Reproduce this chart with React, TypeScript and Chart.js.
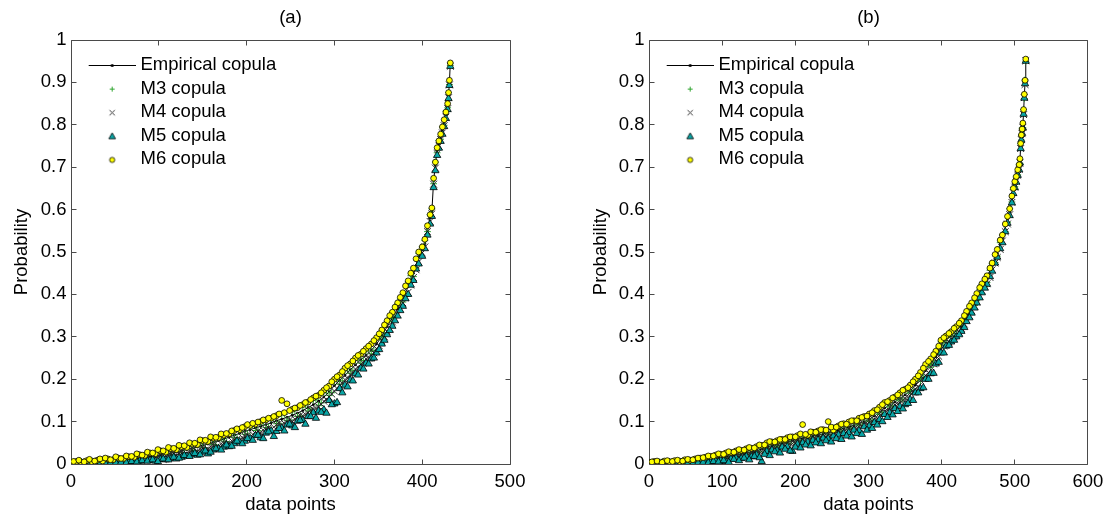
import React, { useEffect, useRef } from "react";
import { Chart, registerables } from "chart.js";

Chart.register(...registerables);

const FONT = "'Liberation Sans', Arial, Helvetica, sans-serif";
const FS = 18.5;

const seriesNames = ["Empirical copula", "M3 copula", "M4 copula", "M5 copula", "M6 copula"];
const panelTitles = ["(a)", "(b)"];
const xAxisTitle = "data points";
const yAxisTitle = "Probability";
const xTicksA = [0, 100, 200, 300, 400, 500];
const xTicksB = [0, 100, 200, 300, 400, 500, 600];
const yTicks = [0, 0.1, 0.2, 0.3, 0.4, 0.5, 0.6, 0.7, 0.8, 0.9, 1];

// ---- Panel (a) ----
const xA = [0, 6, 12, 18, 24, 30, 36, 42, 48, 54,
  60, 66, 72, 78, 84, 90, 96, 102, 108, 114,
  120, 126, 132, 138, 144, 150, 156, 162, 168, 174,
  180, 186, 192, 198, 204, 210, 216, 222, 228, 234,
  240, 246, 252, 258, 264, 270, 276, 282, 288, 294,
  300, 306, 312, 318, 324, 330, 336, 342, 348, 354,
  360, 366, 372, 378, 384, 390, 396,
  400, 403, 406, 409, 411, 413, 415, 417, 419, 421, 423, 425, 427, 429, 430, 431, 432];
const empA = [.001, .002, .002, .003, .003, .004, .005, .006, .007, .008,
  .009, .010, .012, .013, .015, .017, .019, .021, .023, .026,
  .028, .031, .034, .037, .040, .044, .047, .051, .055, .059,
  .063, .068, .072, .077, .081, .085, .089, .093, .097, .102,
  .106, .110, .115, .120, .126, .133, .140, .148, .158, .170,
  .185, .197, .209, .222, .234, .246, .256, .268, .283, .301,
  .324, .344, .366, .390, .418, .450, .490,
  .505, .520, .555, .580, .595, .668, .705, .740, .756, .772, .788, .805, .825, .845, .870, .900, .945];
const m3A = [.004, .001, .006, .002, .007, .003, .009, .004, .010, .006,
  .013, .008, .017, .011, .020, .014, .025, .018, .029, .022,
  .035, .027, .040, .033, .047, .039, .054, .046, .062, .054,
  .071, .062, .080, .070, .089, .079, .097, .086, .106, .095,
  .116, .103, .125, .112, .136, .125, .151, .139, .169, .162,
  .195, .188, .220, .214, .245, .238, .267, .260, .295, .293,
  .335, .336, .378, .382, .430, .442, .497,
  .512, .527, .548, .588, .602, .661, .712, .734, .763, .766, .795, .799, .832, .840, .876, .895, .940];
const m4A = [.000, .004, .001, .005, .001, .006, .002, .008, .003, .010,
  .005, .012, .007, .015, .009, .018, .012, .022, .015, .025,
  .020, .029, .024, .033, .030, .038, .035, .044, .041, .049,
  .048, .057, .055, .066, .064, .072, .075, .082, .081, .093,
  .092, .098, .101, .109, .114, .121, .129, .135, .148, .158,
  .172, .186, .199, .211, .224, .235, .248, .256, .272, .290,
  .313, .335, .352, .380, .405, .440, .477,
  .498, .512, .548, .572, .590, .660, .698, .732, .750, .765, .781, .798, .818, .838, .864, .894, .938];
const m5A = [.000, .001, .000, .002, .001, .002, .002, .004, .003, .005,
  .004, .005, .006, .007, .008, .009, .007, .011, .010, .013,
  .012, .016, .019, .022, .021, .028, .024, .033, .036, .040,
  .041, .048, .052, .054, .060, .067, .062, .073, .078, .077,
  .085, .092, .090, .101, .103, .112, .121, .125, .128, .150,
  .142, .178, .186, .198, .213, .226, .238, .248, .262, .283,
  .305, .325, .349, .372, .400, .433, .472,
  .490, .508, .540, .566, .584, .652, .692, .728, .745, .761, .778, .796, .815, .836, .862, .893, .938];
const m6A = [.004, .006, .003, .008, .005, .009, .007, .012, .010, .014,
  .013, .017, .016, .022, .020, .026, .024, .031, .028, .036,
  .034, .041, .039, .047, .046, .055, .053, .061, .062, .068,
  .071, .079, .081, .088, .091, .094, .100, .104, .108, .114,
  .150, .142, .129, .133, .140, .146, .156, .162, .174, .184,
  .200, .210, .226, .236, .250, .259, .272, .283, .298, .316,
  .338, .358, .380, .404, .432, .462, .500,
  .512, .530, .562, .588, .604, .674, .712, .746, .762, .778, .795, .812, .830, .850, .876, .905, .946];

// extra model points of panel (a), between the ones above
const xA2 = [3, 9, 15, 21, 27, 33, 39, 45, 51, 57,
  63, 69, 75, 81, 87, 93, 99, 105, 111, 117,
  123, 129, 135, 141, 147, 153, 159, 165, 171, 177,
  183, 189, 195, 201, 207, 213, 219, 225, 231, 237,
  243, 249, 255, 261, 267, 273, 279, 285, 291, 297,
  303, 309, 315, 321, 327, 333, 339, 345, 351, 357,
  363, 369, 375, 381, 387, 393];
const m3A2 = [.005, .000, .004, .008, .001, .007, .010, .003, .012, .006,
  .015, .007, .019, .010, .022, .014, .027, .017, .031, .021,
  .036, .026, .043, .032, .049, .038, .057, .045, .064, .053,
  .073, .062, .083, .071, .091, .079, .099, .087, .108, .096,
  .117, .104, .126, .114, .139, .128, .153, .144, .173, .168,
  .201, .196, .225, .220, .250, .244, .272, .267, .301, .305,
  .344, .347, .389, .396, .444, .462];
const m4A2 = [.000, .003, .000, .004, .000, .002, .006, .001, .008, .003,
  .010, .004, .013, .006, .015, .009, .019, .011, .022, .016,
  .026, .021, .031, .027, .036, .033, .042, .040, .048, .047,
  .055, .058, .063, .068, .070, .078, .080, .086, .087, .096,
  .096, .104, .106, .115, .117, .128, .131, .141, .152, .165,
  .178, .190, .202, .214, .228, .238, .250, .262, .279, .300,
  .320, .342, .366, .392, .422, .458];
const m5A2 = [.000, .000, .001, .000, .001, .001, .002, .002, .003, .004,
  .003, .006, .005, .008, .007, .010, .006, .012, .010, .016,
  .014, .020, .018, .025, .022, .031, .028, .036, .033, .045,
  .042, .054, .048, .060, .056, .068, .060, .076, .065, .084,
  .078, .094, .086, .103, .094, .112, .108, .122, .120, .140,
  .145, .168, .182, .196, .210, .224, .236, .250, .270, .292,
  .315, .338, .362, .390, .422, .460];
const m6A2 = [.006, .009, .005, .011, .007, .012, .014, .010, .017, .013,
  .019, .018, .024, .021, .028, .026, .034, .031, .039, .037,
  .044, .043, .050, .049, .057, .056, .064, .063, .071, .072,
  .078, .083, .086, .093, .096, .099, .104, .108, .112, .118,
  .121, .126, .132, .138, .145, .152, .160, .168, .180, .194,
  .206, .218, .232, .243, .256, .266, .278, .291, .307, .328,
  .350, .370, .393, .420, .450, .484];

// ---- Panel (b) ----
const xB = [0, 7, 14, 21, 28, 35, 42, 49, 56, 63,
  70, 77, 84, 91, 98, 105, 112, 119, 126, 133,
  140, 147, 154, 161, 168, 175, 182, 189, 196, 203,
  210, 217, 224, 231, 238, 245, 252, 259, 266, 273,
  280, 287, 294, 301, 308, 315, 322, 329, 336, 343,
  350, 357, 364, 371, 378, 385, 392, 399, 406, 413,
  420, 427, 434, 441, 448, 455, 462, 469, 476, 483,
  490,
  493, 496, 498, 500, 502, 504, 506, 507, 508, 509, 510, 511, 512, 513, 514, 515];
const empB = [.001, .001, .002, .002, .002, .003, .003, .004, .005, .006,
  .008, .009, .011, .013, .015, .017, .019, .021, .024, .026,
  .028, .031, .035, .040, .043, .046, .049, .052, .055, .058,
  .061, .064, .066, .068, .071, .074, .076, .080, .084, .087,
  .091, .095, .100, .105, .113, .122, .132, .139, .146, .155,
  .163, .172, .186, .202, .220, .235, .253, .280, .292, .302,
  .314, .326, .350, .368, .392, .415, .434, .465, .497, .532,
  .577,
  .595, .625, .645, .660, .672, .688, .700, .715, .750, .770, .785, .798, .830, .868, .900, .953];
const m3B = [.003, .000, .005, .001, .006, .002, .007, .003, .009, .004,
  .012, .007, .015, .010, .019, .014, .024, .017, .029, .022,
  .033, .027, .041, .036, .049, .041, .055, .048, .061, .052,
  .068, .060, .073, .064, .079, .069, .085, .075, .093, .082,
  .099, .090, .109, .100, .122, .117, .141, .134, .156, .149,
  .173, .167, .197, .196, .231, .228, .263, .288, .286, .310,
  .308, .334, .343, .377, .385, .423, .428, .473, .490, .540,
  .570,
  .602, .618, .652, .654, .679, .682, .707, .709, .756, .764, .792, .793, .836, .862, .906, .950];
const m4B = [.000, .003, .001, .004, .000, .005, .001, .006, .002, .008,
  .004, .011, .007, .015, .010, .019, .014, .024, .018, .028,
  .022, .034, .029, .040, .036, .047, .042, .053, .048, .057,
  .055, .063, .059, .068, .064, .072, .069, .079, .076, .086,
  .083, .094, .092, .104, .104, .119, .124, .134, .139, .150,
  .155, .168, .177, .197, .209, .229, .242, .272, .284, .296,
  .305, .320, .340, .362, .382, .409, .425, .458, .487, .526,
  .566,
  .588, .617, .640, .653, .667, .681, .695, .710, .744, .765, .779, .794, .824, .864, .895, .951];
const m5B = [.000, .000, .001, .000, .001, .001, .002, .001, .003, .003,
  .004, .005, .006, .008, .009, .006, .012, .014, .013, .018,
  .017, .022, .006, .030, .033, .032, .040, .041, .030, .047,
  .050, .052, .056, .057, .061, .060, .066, .069, .072, .074,
  .080, .079, .088, .090, .098, .105, .117, .121, .131, .136,
  .140, .152, .168, .178, .200, .213, .236, .262, .278, .288,
  .300, .313, .336, .356, .380, .404, .424, .455, .488, .522,
  .568,
  .586, .616, .638, .652, .665, .681, .694, .710, .744, .764, .780, .793, .825, .863, .897, .950];
const m6B = [.004, .006, .003, .007, .005, .008, .006, .010, .009, .012,
  .014, .016, .018, .021, .023, .026, .027, .031, .032, .036,
  .037, .041, .044, .050, .052, .055, .058, .062, .064, .067,
  .093, .068, .075, .078, .081, .100, .080, .090, .095, .099,
  .102, .108, .112, .118, .126, .134, .145, .150, .158, .168,
  .176, .186, .200, .216, .235, .248, .266, .292, .302, .312,
  .324, .338, .360, .380, .402, .425, .444, .474, .506, .540,
  .584,
  .602, .632, .650, .666, .678, .694, .706, .720, .756, .776, .790, .804, .836, .872, .905, .955];

// extra model points of panel (b)
const xB2 = [4, 11, 18, 25, 32, 39, 46, 53, 60, 67,
  74, 81, 88, 95, 102, 109, 116, 123, 130, 137,
  144, 151, 158, 165, 172, 179, 186, 193, 200, 207,
  214, 221, 228, 235, 242, 249, 256, 263, 270, 277,
  284, 291, 298, 305, 312, 319, 326, 333, 340, 347,
  354, 361, 368, 375, 382, 389, 396, 403, 410, 417,
  424, 431, 438, 445, 452, 459, 466, 473, 480, 487];
const m3B2 = [.004, .000, .005, .001, .006, .001, .007, .003, .009, .005,
  .012, .007, .016, .010, .020, .014, .024, .018, .029, .023,
  .034, .029, .042, .037, .049, .043, .055, .049, .062, .055,
  .068, .060, .073, .064, .078, .070, .084, .077, .092, .084,
  .099, .092, .109, .104, .124, .121, .142, .137, .157, .153,
  .175, .173, .202, .205, .235, .238, .274, .280, .304, .302,
  .328, .332, .366, .374, .411, .418, .457, .475, .522, .548];
const m4B2 = [.000, .002, .000, .003, .001, .004, .001, .005, .003, .006,
  .006, .009, .009, .012, .012, .016, .015, .020, .020, .024,
  .024, .029, .031, .036, .037, .042, .043, .048, .049, .054,
  .054, .060, .059, .064, .064, .069, .069, .076, .077, .083,
  .084, .090, .094, .101, .107, .118, .126, .134, .141, .150,
  .157, .170, .183, .202, .216, .236, .254, .278, .288, .300,
  .311, .330, .350, .372, .395, .418, .440, .474, .506, .548];
const m5B2 = [.000, .000, .001, .000, .001, .001, .001, .002, .002, .003,
  .004, .003, .006, .005, .008, .004, .011, .008, .014, .010,
  .018, .015, .023, .020, .029, .026, .035, .031, .040, .038,
  .045, .043, .050, .048, .055, .052, .060, .058, .066, .064,
  .072, .070, .080, .084, .092, .100, .110, .116, .124, .130,
  .143, .150, .168, .180, .200, .214, .240, .262, .280, .292,
  .305, .322, .345, .368, .392, .415, .442, .474, .508, .548];
const m6B2 = [.005, .007, .004, .008, .006, .009, .007, .011, .010, .014,
  .015, .019, .019, .024, .023, .029, .028, .034, .033, .039,
  .038, .045, .045, .053, .052, .058, .058, .064, .064, .071,
  .070, .076, .075, .081, .080, .087, .087, .094, .094, .102,
  .102, .110, .113, .121, .128, .140, .147, .156, .163, .174,
  .180, .194, .208, .226, .242, .258, .278, .298, .308, .320,
  .332, .350, .372, .392, .416, .436, .462, .494, .528, .566];

const GREEN = "#2fa52f";
const XCOL = "#2a2a2a";
const TEAL = "#0aa6a6";
const YELLOW = "#ffff00";

function makeLegendImage(kind: number): HTMLCanvasElement {
  const c = document.createElement("canvas");
  c.width = 64;
  c.height = 12;
  const ctx = c.getContext("2d")!;
  const cx = 40.5;
  const cy = 6;
  ctx.lineWidth = 1;
  if (kind === 0) {
    ctx.strokeStyle = "#000";
    ctx.beginPath();
    ctx.moveTo(17, cy + 0.5);
    ctx.lineTo(64, cy + 0.5);
    ctx.stroke();
    ctx.fillStyle = "#000";
    ctx.beginPath();
    ctx.arc(cx, cy + 0.5, 1.6, 0, Math.PI * 2);
    ctx.fill();
  } else if (kind === 1) {
    ctx.strokeStyle = GREEN;
    ctx.beginPath();
    ctx.moveTo(cx - 2.5, cy + 0.5);
    ctx.lineTo(cx + 2.5, cy + 0.5);
    ctx.moveTo(cx, cy - 2);
    ctx.lineTo(cx, cy + 3);
    ctx.stroke();
  } else if (kind === 2) {
    ctx.strokeStyle = "#3a3a3a";
    ctx.beginPath();
    ctx.moveTo(cx - 2.7, cy - 2.2);
    ctx.lineTo(cx + 2.7, cy + 3.2);
    ctx.moveTo(cx + 2.7, cy - 2.2);
    ctx.lineTo(cx - 2.7, cy + 3.2);
    ctx.stroke();
  } else if (kind === 3) {
    ctx.fillStyle = TEAL;
    ctx.strokeStyle = "#000";
    ctx.lineWidth = 0.8;
    ctx.beginPath();
    ctx.moveTo(cx, cy - 3);
    ctx.lineTo(cx + 3.4, cy + 3);
    ctx.lineTo(cx - 3.4, cy + 3);
    ctx.closePath();
    ctx.fill();
    ctx.stroke();
  } else {
    ctx.fillStyle = YELLOW;
    ctx.strokeStyle = "#000";
    ctx.lineWidth = 0.8;
    ctx.beginPath();
    ctx.arc(cx, cy + 0.5, 2.6, 0, Math.PI * 2);
    ctx.fill();
    ctx.stroke();
  }
  return c;
}

const framePlugin = {
  id: "matlabFrame",
  afterLayout(chart: any) {
    const lg = chart.legend;
    if (lg) {
      const h = lg.bottom - lg.top;
      lg.top = chart.chartArea.top + 2;
      lg.bottom = lg.top + h;
    }
  },
  beforeDatasetsDraw(chart: any) {
    const { ctx, chartArea } = chart;
    const L = Math.floor(chartArea.left) + 0.5;
    const R = Math.floor(chartArea.right) + 0.5;
    const T = Math.floor(chartArea.top) + 0.5;
    const B = Math.floor(chartArea.bottom) + 0.5;
    ctx.save();
    ctx.strokeStyle = "#4a4a4a";
    ctx.lineWidth = 1;
    ctx.beginPath();
    ctx.rect(L, T, R - L, B - T);
    ctx.stroke();
    const tl = 5;
    ctx.beginPath();
    for (const t of chart.scales.x.ticks) {
      const px = Math.floor(chart.scales.x.getPixelForValue(t.value)) + 0.5;
      ctx.moveTo(px, B);
      ctx.lineTo(px, B - tl);
      ctx.moveTo(px, T);
      ctx.lineTo(px, T + tl);
    }
    for (const t of chart.scales.y.ticks) {
      const py = Math.floor(chart.scales.y.getPixelForValue(t.value)) + 0.5;
      ctx.moveTo(L, py);
      ctx.lineTo(L + tl, py);
      ctx.moveTo(R, py);
      ctx.lineTo(R - tl, py);
    }
    ctx.stroke();
    ctx.restore();
  },
};

type PanelProps = {
  title: string;
  xs: number[];
  xs2: number[];
  emp: number[];
  m3: number[];
  m4: number[];
  m5: number[];
  m6: number[];
  m3b: number[];
  m4b: number[];
  m5b: number[];
  m6b: number[];
  xTicks: number[];
  padLeft: number;
  padRight: number;
  yWidth: number;
};

function Panel(props: PanelProps) {
  const ref = useRef<HTMLCanvasElement | null>(null);
  useEffect(() => {
    const canvas = ref.current;
    if (!canvas) return;
    const pts = (xs: number[], ys: number[]) => xs.map((x, i) => ({ x, y: ys[i] }));
    const both = (a: number[], b: number[]) => pts(props.xs, a).concat(pts(props.xs2, b));
    const imgs = [0, 1, 2, 3, 4].map((k) => makeLegendImage(k));
    const font = { family: FONT, size: FS };
    const chart = new Chart(canvas, {
      type: "scatter",
      data: {
        datasets: [
          {
            label: seriesNames[0],
            data: pts(props.xs, props.emp),
            showLine: true,
            borderColor: "#000",
            borderWidth: 1,
            pointRadius: 1.4,
            pointBackgroundColor: "#000",
            pointBorderColor: "#000",
            pointBorderWidth: 0,
            order: 5,
          },
          {
            label: seriesNames[1],
            data: both(props.m3, props.m3b),
            pointStyle: "cross",
            pointRadius: 3.4,
            pointBorderColor: GREEN,
            pointBackgroundColor: GREEN,
            pointBorderWidth: 1,
            order: 4,
          },
          {
            label: seriesNames[2],
            data: both(props.m4, props.m4b),
            pointStyle: "crossRot",
            pointRadius: 4.8,
            pointBorderColor: XCOL,
            pointBackgroundColor: XCOL,
            pointBorderWidth: 1,
            order: 3,
          },
          {
            label: seriesNames[3],
            data: both(props.m5, props.m5b),
            pointStyle: "triangle",
            pointRadius: 4.2,
            pointBorderColor: "#000",
            pointBackgroundColor: TEAL,
            pointBorderWidth: 0.8,
            order: 2,
          },
          {
            label: seriesNames[4],
            data: both(props.m6, props.m6b),
            pointStyle: "circle",
            pointRadius: 2.9,
            pointBorderColor: "#000",
            pointBackgroundColor: YELLOW,
            pointBorderWidth: 0.8,
            order: 1,
          },
        ],
      },
      options: {
        animation: false,
        responsive: false,
        events: [],
        layout: { padding: { left: props.padLeft, right: props.padRight, top: 0, bottom: 0 } },
        scales: {
          x: {
            type: "linear",
            min: 0,
            max: props.xTicks[props.xTicks.length - 1],
            afterBuildTicks: (s: any) => {
              s.ticks = props.xTicks.map((v) => ({ value: v }));
            },
            afterFit: (s: any) => {
              s.height = 65;
            },
            grid: { display: false, drawTicks: false },
            border: { display: false },
            ticks: { font, color: "#000", padding: 6.6, maxRotation: 0, autoSkip: false },
            title: {
              display: true,
              text: xAxisTitle,
              font,
              color: "#000",
              padding: { top: 0, bottom: 12.9 },
            },
          },
          y: {
            type: "linear",
            min: 0,
            max: 1,
            afterBuildTicks: (s: any) => {
              s.ticks = yTicks.map((v) => ({ value: v }));
            },
            afterFit: (s: any) => {
              s.width = props.yWidth;
            },
            grid: { display: false, drawTicks: false },
            border: { display: false },
            ticks: {
              font,
              color: "#000",
              padding: 4.5,
              autoSkip: false,
              callback: (v: any) => String(Math.round(Number(v) * 10) / 10),
            },
            title: {
              display: true,
              text: yAxisTitle,
              font,
              color: "#000",
              padding: { top: 10.9, bottom: 0 },
            },
          },
        },
        plugins: {
          tooltip: { enabled: false },
          title: {
            display: true,
            text: props.title,
            fullSize: false,
            font: { family: FONT, size: FS, weight: "normal" },
            color: "#000",
            padding: { top: 6.9, bottom: 10.9 },
          },
          legend: {
            position: "chartArea",
            align: "start",
            title: { display: true, text: "", font: { size: 7.2, lineHeight: 1.2 }, padding: 0 },
            labels: {
              usePointStyle: true,
              pointStyleWidth: 55.15,
              padding: 5.1,
              font,
              color: "#000",
              generateLabels: () =>
                seriesNames.map((t, i) => ({
                  text: t,
                  pointStyle: imgs[i],
                  datasetIndex: i,
                  hidden: false,
                  lineWidth: 0,
                  strokeStyle: "rgba(0,0,0,0)",
                  fillStyle: "rgba(0,0,0,0)",
                  fontColor: "#000",
                })),
            },
          },
        },
      } as any,
      plugins: [framePlugin],
    });
    return () => chart.destroy();
  }, []);
  return <canvas ref={ref} width={555} height={529} style={{ display: "block", width: 555, height: 529 }} />;
}

export default function App() {
  return (
    <div style={{ position: "fixed", left: 0, top: 0, width: 1110, height: 529, background: "#fff", overflow: "hidden", display: "flex" }}>
      <Panel title={panelTitles[0]} xs={xA} xs2={xA2} emp={empA} m3={m3A} m4={m4A} m5={m5A} m6={m6A}
        m3b={m3A2} m4b={m4A2} m5b={m5A2} m6b={m6A2} xTicks={xTicksA} padLeft={0} padRight={45} yWidth={71} />
      <Panel title={panelTitles[1]} xs={xB} xs2={xB2} emp={empB} m3={m3B} m4={m4B} m5={m5B} m6={m6B}
        m3b={m3B2} m4b={m4B2} m5b={m5B2} m6b={m6B2} xTicks={xTicksB} padLeft={24} padRight={21} yWidth={70} />
    </div>
  );
}
